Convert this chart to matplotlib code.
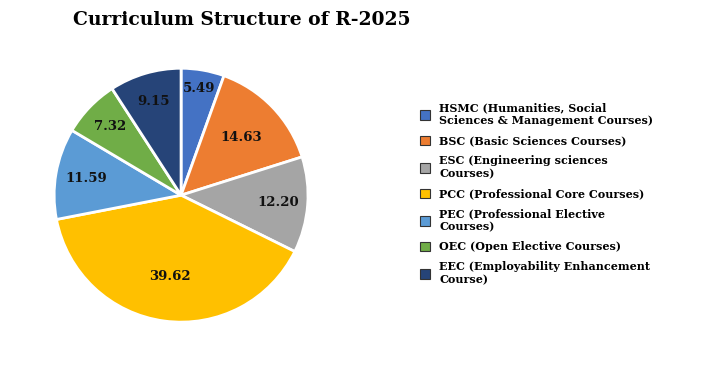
import matplotlib.pyplot as plt
import numpy as np

categories = ["HSMC (Humanities, Social\nSciences & Management Courses)",
              "BSC (Basic Sciences Courses)",
              "ESC (Engineering sciences\nCourses)",
              "PCC (Professional Core Courses)",
              "PEC (Professional Elective\nCourses)",
              "OEC (Open Elective Courses)",
              "EEC (Employability Enhancement\nCourse)"]
values = [5.49, 14.63, 12.20, 39.62, 11.59, 7.32, 9.15]
colors = ["#4472C4", "#ED7D31", "#A5A5A5", "#FFC000", "#5B9BD5", "#70AD47", "#264478"]
label_dist = [0.85, 0.66, 0.77, 0.645, 0.76, 0.78, 0.77]

plt.rcParams['font.family'] = ['DejaVu Serif']
plt.rcParams['font.weight'] = 'bold'

fig = plt.figure(figsize=(7.04, 3.9), dpi=100)
ax = fig.add_axes([0.0767, 0.174, 0.361, 0.651])

wedges, _ = ax.pie(values, colors=colors, startangle=90, counterclock=False,
                   wedgeprops=dict(edgecolor='white', linewidth=2))
ax.set_xlim(-1, 1)
ax.set_ylim(-1, 1)
ax.set_aspect('equal')

for w, v, d in zip(wedges, values, label_dist):
    ang = np.deg2rad((w.theta1 + w.theta2) / 2)
    ax.text(d * np.cos(ang), d * np.sin(ang), f"{v:.2f}", ha='center', va='center',
            fontsize=9.5, fontweight='bold', color='#111111')

fig.text(0.344, 0.948, "Curriculum Structure of R-2025", ha='center', va='center',
         fontsize=13.5, fontweight='bold')

handles = [plt.Rectangle((0, 0), 1, 1, facecolor=c, edgecolor='#333333', linewidth=0.8)
           for c in colors]
leg = fig.legend(handles, categories, loc='center left', bbox_to_anchor=(0.583, 0.503),
                 frameon=False, fontsize=8, handlelength=0.9, handleheight=0.9,
                 handletextpad=0.8, labelspacing=0.8)
for t in leg.get_texts():
    t.set_linespacing(1.25)

fig.savefig("out.png", dpi=100)
